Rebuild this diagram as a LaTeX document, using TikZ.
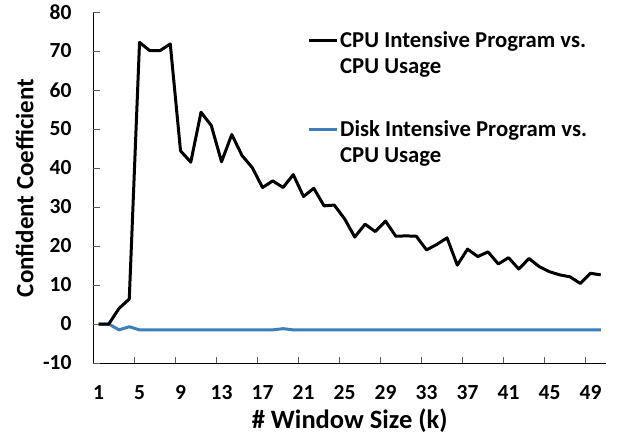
\documentclass[tikz,border=0pt]{standalone}
\usepackage{fontspec}
\setmainfont{Carlito}
\definecolor{diskblue}{RGB}{62,126,186}
\begin{document}
\begin{tikzpicture}[x=10.25pt,y=3.9pt,font=\fontsize{21.5}{26}\selectfont\bfseries,
    cpuline/.style={line width=3pt,line join=round,black},
    diskline/.style={line width=3pt,line join=round,diskblue},
    tickmark/.style={line width=1pt,black!65},
    ticklab/.style={inner sep=0pt},
    legtext/.style={anchor=base west,align=left,inner sep=0pt,font=\fontsize{22.7}{26}\selectfont\bfseries},
    axtitle/.style={anchor=base,font=\fontsize{25}{30}\selectfont\bfseries}]
        \useasboundingbox (-9.112,-28.97) rectangle (51.18,83.08);
        %% Axes
        \draw[line width=1pt] (0,80) coordinate (ytop) -- (0,-10) coordinate (orig) -- (50,-10) coordinate (xend);
        \foreach \v in {-10,0,...,80} {
            \draw[tickmark] (0,\v) -- ++(7pt,0);
            \node[ticklab,anchor=east] (yl\v) at ([xshift=-21.7pt]0,\v) {\v};
        }
        \foreach \c in {4,8,...,48} \draw[tickmark] (\c,-10) -- ++(0,6pt);
        \foreach \c in {1,5,...,49} \node[ticklab,anchor=base] (xl\c) at ([yshift=-36.3pt]\c-0.5,-10) {\c};
        %% Titles
        \node[axtitle,rotate=90] (ytitle) at (-5.86,34.87) {Confident Coefficient};
        \node[axtitle,font=\fontsize{26.5}{30}\selectfont\bfseries] (xtitle) at ([yshift=-65.3pt]25,-10) {\# Window Size (k)};
        %% Disk curve
        \draw[diskline] (0.5,0) \foreach \v [count=\c from 2] in {0,-1.5,-0.7,-1.5,-1.5,-1.5,-1.5,-1.5,-1.5,
            -1.5,-1.5,-1.5,-1.5,-1.5,-1.5,-1.5,-1.5,-1.2,-1.5,-1.5,-1.5,-1.5,-1.5,-1.5,-1.5,-1.5,-1.5,-1.5,
            -1.5,-1.5,-1.5,-1.5,-1.5,-1.5,-1.5,-1.5,-1.5,-1.5,-1.5,-1.5,-1.5,-1.5,-1.5,-1.5,-1.5,-1.5,-1.5,-1.5,-1.5} { -- (\c-0.5,\v) };
        %% CPU curve
        \draw[cpuline] (0.5,0) \foreach \v [count=\c from 2] in {0,4.0,6.4,72.2,70.1,70.1,71.8,44.4,41.5,
            54.3,50.9,41.6,48.6,43.2,40.1,35.0,36.7,35.0,38.3,32.7,34.8,30.3,30.5,27.0,22.3,25.6,23.7,26.4,
            22.5,22.6,22.5,19.0,20.4,22.1,15.1,19.2,17.3,18.5,15.4,17.0,14.1,16.8,14.7,13.4,12.6,12.1,10.4,13.0,12.6} { -- (\c-0.5,\v) };
        %% Legend
        \draw[cpuline] (21.03,72.64) coordinate (cpuA) -- (23.74,72.64) coordinate (cpuB);
        \node[legtext] (cpuleg) at (24.06,64.28) {CPU Intensive Program vs.\\CPU Usage};
        \draw[diskline] (21.03,49.82) coordinate (diskA) -- (23.74,49.82) coordinate (diskB);
        \node[legtext] (diskleg) at (24.06,41.3) {Disk Intensive Program vs.\\CPU Usage};
    \end{tikzpicture}
\end{document}
